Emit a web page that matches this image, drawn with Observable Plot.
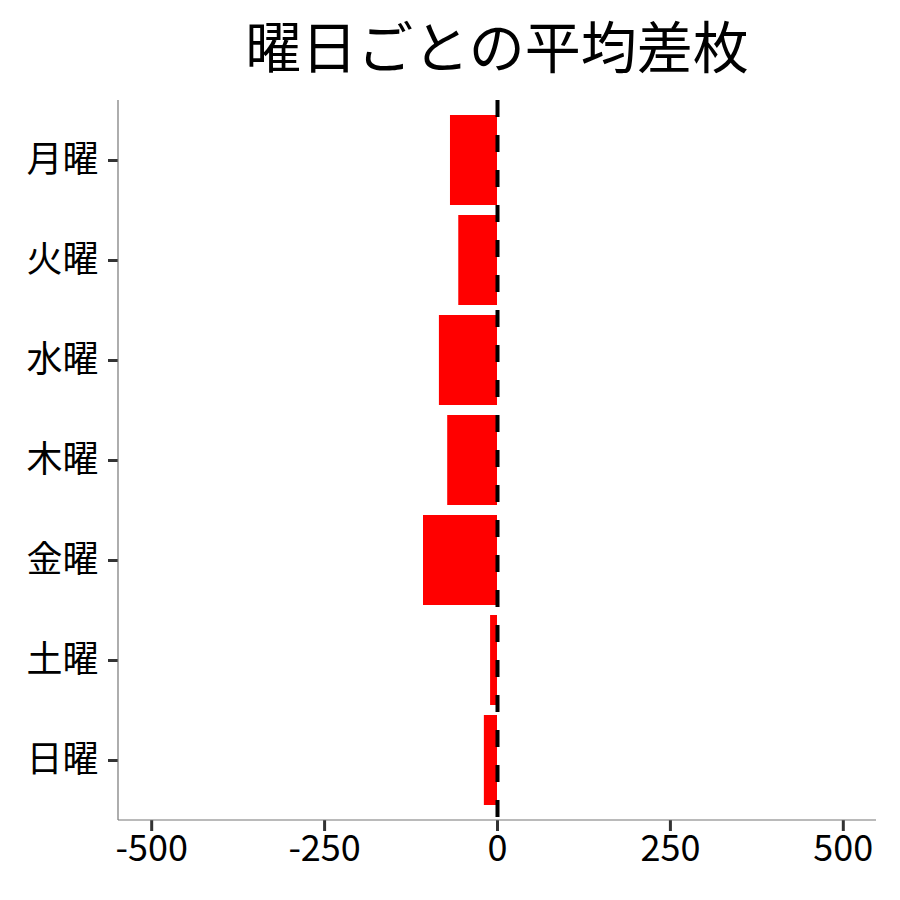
<!DOCTYPE html>
<html><head><meta charset="utf-8">
<script src="https://cdn.jsdelivr.net/npm/d3@7"></script>
<script src="https://cdn.jsdelivr.net/npm/@observablehq/plot@0.6"></script>
<style>
body{margin:0;background:#fff;font-family:"Noto Sans CJK JP",sans-serif;}
#title{height:90px;width:900px;position:relative;}
#title span{position:absolute;left:497px;top:4px;transform:translateX(-50%);font-size:56px;line-height:80px;color:#000;white-space:nowrap;}
</style></head>
<body>
<div id="title"><span>曜日ごとの平均差枚</span></div>
<div id="chart"></div>
<script>
const days = ["月曜","火曜","水曜","木曜","金曜","土曜","日曜"];
const diffs = [-68, -56, -84, -72, -107, -10, -19];
const xTicks = [-500, -250, 0, 250, 500];
const xDomain = [-548, 548];

const data = days.map((d, i) => ({day: d, value: diffs[i]}));

const plot = Plot.plot({
  width: 900,
  height: 810,
  marginTop: 10,
  marginBottom: 80,
  marginLeft: 118,
  marginRight: 24,
  style: {fontFamily: '"Noto Sans CJK JP", sans-serif', background: "#fff"},
  x: {domain: xDomain, ticks: xTicks},
  y: {domain: days, paddingInner: 0.1, paddingOuter: 0.15},
  marks: [
    Plot.barX(data, {x: "value", y: "day", fill: "#ff0000"}),
    Plot.ruleX([0], {stroke: "#000", strokeWidth: 4, strokeDasharray: "17,18"}),
    Plot.axisY({tickSize: 10, tickPadding: 10, fontSize: 36, stroke: "#333", strokeWidth: 3, color: "#000", label: null}),
    Plot.axisX({ticks: xTicks, tickSize: 11, tickPadding: 4, fontSize: 36, stroke: "#333", strokeWidth: 3, label: null, tickFormat: d => String(d)}),
  ]
});
document.getElementById("chart").appendChild(plot);

// panel border lines (left and bottom) like ggplot's axis lines
const xs = plot.scale("x");
const svg = d3.select(plot);
const x0 = xs.range[0], x1 = xs.range[1];
const yTop = 10, yBot = 810 - 80;
svg.append("line").attr("x1", x0).attr("x2", x0).attr("y1", yTop).attr("y2", yBot)
  .attr("stroke", "#777").attr("stroke-width", 1.2);
svg.append("line").attr("x1", x0).attr("x2", x1).attr("y1", yBot).attr("y2", yBot)
  .attr("stroke", "#777").attr("stroke-width", 1.2);
svg.selectAll("text").attr("fill", "#000");
</script>
</body></html>
